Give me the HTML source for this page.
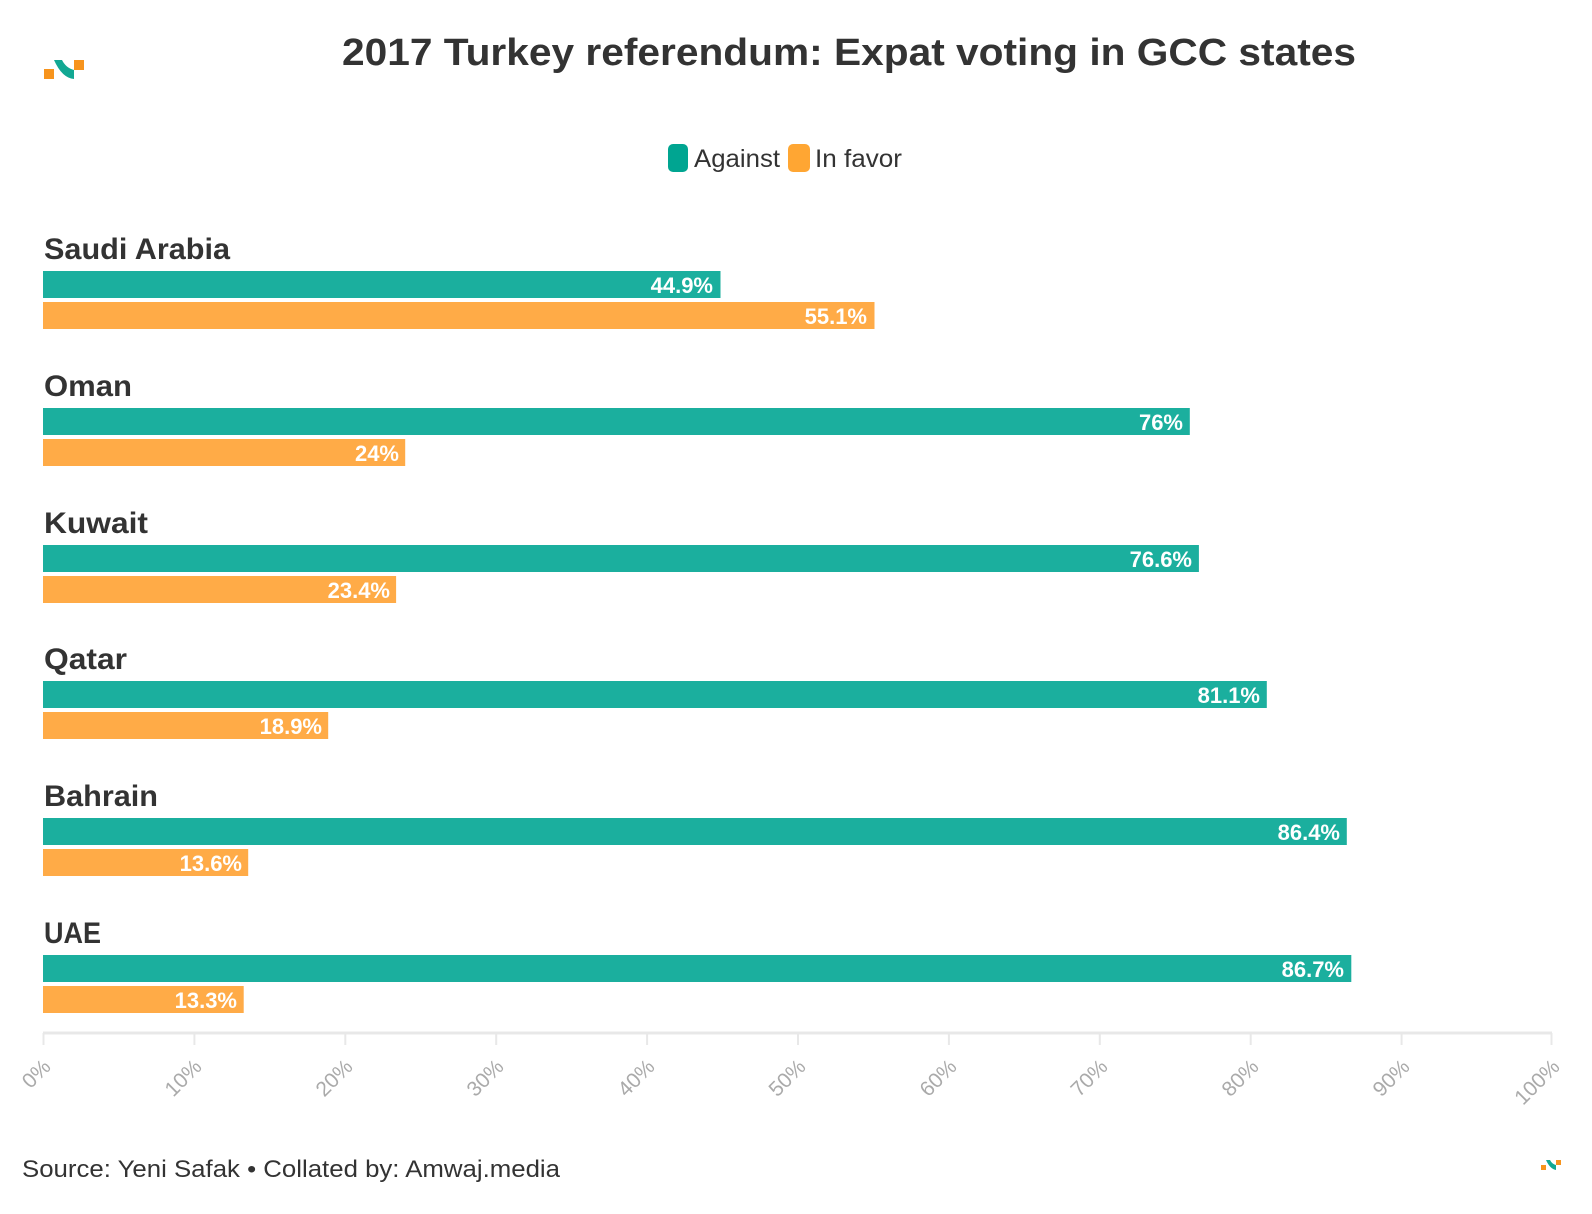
<!DOCTYPE html>
<html><head><meta charset="utf-8"><style>
html,body{margin:0;padding:0;background:#fff;}
svg{display:block;}
</style></head><body>
<svg width="1592" height="1214" viewBox="0 0 1592 1214" xmlns="http://www.w3.org/2000/svg" font-family="'Liberation Sans', sans-serif">
<rect x="44" y="69" width="10" height="10" fill="#f7941d"/>
<path d="M54 60 L62 60 Q66 68 74 70 L74 79 Q62 78 54 60 Z" fill="#12a893"/>
<rect x="74" y="60" width="10" height="10" fill="#f7941d"/>
<text x="849" y="65" text-anchor="middle" font-size="38" font-weight="bold" fill="#333" textLength="1014" lengthAdjust="spacingAndGlyphs">2017 Turkey referendum: Expat voting in GCC states</text>
<rect x="668" y="144" width="20" height="28" rx="5" fill="#00a591"/>
<text x="694" y="167" font-size="25" fill="#333" textLength="86" lengthAdjust="spacingAndGlyphs">Against</text>
<rect x="788" y="144" width="22" height="28" rx="5" fill="#ffa633"/>
<text x="815" y="167" font-size="25" fill="#333" textLength="87" lengthAdjust="spacingAndGlyphs">In favor</text>
<g font-weight="bold">
<g>
<text x="44" y="259" font-size="30" fill="#333" textLength="186" lengthAdjust="spacingAndGlyphs">Saudi Arabia</text>
<rect x="43" y="271" width="677.5" height="27" fill="#1baf9e"/>
<text x="713" y="293" text-anchor="end" font-size="22" fill="#fff">44.9%</text>
<rect x="43" y="302" width="831.5" height="27" fill="#ffab47"/>
<text x="867" y="324" text-anchor="end" font-size="22" fill="#fff">55.1%</text>
</g>
<g transform="translate(0,137)">
<text x="44" y="259" font-size="30" fill="#333" textLength="88" lengthAdjust="spacingAndGlyphs">Oman</text>
<rect x="43" y="271" width="1146.8" height="27" fill="#1baf9e"/>
<text x="1183" y="293" text-anchor="end" font-size="22" fill="#fff">76%</text>
<rect x="43" y="302" width="362.2" height="27" fill="#ffab47"/>
<text x="399" y="324" text-anchor="end" font-size="22" fill="#fff">24%</text>
</g>
<g transform="translate(0,274)">
<text x="44" y="259" font-size="30" fill="#333" textLength="104" lengthAdjust="spacingAndGlyphs">Kuwait</text>
<rect x="43" y="271" width="1155.9" height="27" fill="#1baf9e"/>
<text x="1192" y="293" text-anchor="end" font-size="22" fill="#fff">76.6%</text>
<rect x="43" y="302" width="353.1" height="27" fill="#ffab47"/>
<text x="390" y="324" text-anchor="end" font-size="22" fill="#fff">23.4%</text>
</g>
<g transform="translate(0,410)">
<text x="44" y="259" font-size="30" fill="#333" textLength="83" lengthAdjust="spacingAndGlyphs">Qatar</text>
<rect x="43" y="271" width="1223.8" height="27" fill="#1baf9e"/>
<text x="1260" y="293" text-anchor="end" font-size="22" fill="#fff">81.1%</text>
<rect x="43" y="302" width="285.2" height="27" fill="#ffab47"/>
<text x="322" y="324" text-anchor="end" font-size="22" fill="#fff">18.9%</text>
</g>
<g transform="translate(0,547)">
<text x="44" y="259" font-size="30" fill="#333" textLength="114" lengthAdjust="spacingAndGlyphs">Bahrain</text>
<rect x="43" y="271" width="1303.8" height="27" fill="#1baf9e"/>
<text x="1340" y="293" text-anchor="end" font-size="22" fill="#fff">86.4%</text>
<rect x="43" y="302" width="205.2" height="27" fill="#ffab47"/>
<text x="242" y="324" text-anchor="end" font-size="22" fill="#fff">13.6%</text>
</g>
<g transform="translate(0,684)">
<text x="44" y="259" font-size="30" fill="#333" textLength="57" lengthAdjust="spacingAndGlyphs">UAE</text>
<rect x="43" y="271" width="1308.3" height="27" fill="#1baf9e"/>
<text x="1344" y="293" text-anchor="end" font-size="22" fill="#fff">86.7%</text>
<rect x="43" y="302" width="200.7" height="27" fill="#ffab47"/>
<text x="237" y="324" text-anchor="end" font-size="22" fill="#fff">13.3%</text>
</g>
</g>
<line x1="43" y1="1033" x2="1552" y2="1033" stroke="#e8e8e8" stroke-width="3"/>
<g stroke="#e8e8e8" stroke-width="2">
<line x1="43.5" y1="1033" x2="43.5" y2="1045"/><line x1="194.4" y1="1033" x2="194.4" y2="1045"/>
<line x1="345.3" y1="1033" x2="345.3" y2="1045"/><line x1="496.2" y1="1033" x2="496.2" y2="1045"/>
<line x1="647.1" y1="1033" x2="647.1" y2="1045"/><line x1="798" y1="1033" x2="798" y2="1045"/>
<line x1="948.9" y1="1033" x2="948.9" y2="1045"/><line x1="1099.8" y1="1033" x2="1099.8" y2="1045"/>
<line x1="1250.7" y1="1033" x2="1250.7" y2="1045"/><line x1="1401.6" y1="1033" x2="1401.6" y2="1045"/>
<line x1="1551.5" y1="1033" x2="1551.5" y2="1045"/>
</g>
<g font-size="21" fill="#aaa" text-anchor="end">
<text transform="translate(52,1068) rotate(-45)">0%</text>
<text transform="translate(203,1068) rotate(-45)">10%</text>
<text transform="translate(354,1068) rotate(-45)">20%</text>
<text transform="translate(505,1068) rotate(-45)">30%</text>
<text transform="translate(656,1068) rotate(-45)">40%</text>
<text transform="translate(807,1068) rotate(-45)">50%</text>
<text transform="translate(958,1068) rotate(-45)">60%</text>
<text transform="translate(1109,1068) rotate(-45)">70%</text>
<text transform="translate(1260,1068) rotate(-45)">80%</text>
<text transform="translate(1411,1068) rotate(-45)">90%</text>
<text transform="translate(1561,1068) rotate(-45)">100%</text>
</g>
<text x="22" y="1177" font-size="24" fill="#333" textLength="538" lengthAdjust="spacingAndGlyphs">Source: Yeni Safak • Collated by: Amwaj.media</text>
<rect x="1541" y="1165" width="5" height="5" fill="#f7941d"/>
<path d="M1546 1160 L1550 1160 Q1552 1164 1556 1165 L1556 1170 Q1550 1169 1546 1160 Z" fill="#12a893"/>
<rect x="1556" y="1160" width="5" height="5" fill="#f7941d"/>
</svg>
</body></html>
